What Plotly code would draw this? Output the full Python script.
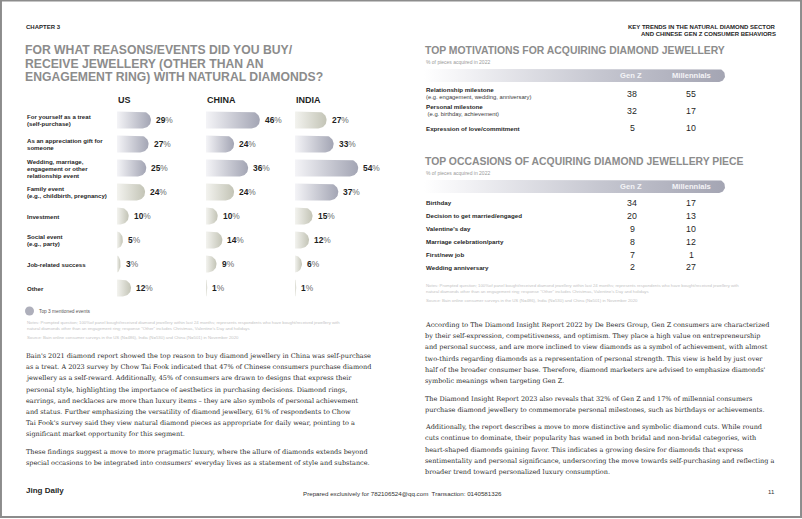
import numpy as np
import plotly.graph_objects as go

W, H = 802, 519
SANS = "Liberation Sans"
SERIF = "DejaVu Serif"
DARK = "#1f1f1f"

# ---- left chart data ----
reasons = [
    "For yourself as a treat<br>(self-purchase)",
    "As an appreciation gift for<br>someone",
    "Wedding, marriage,<br>engagement or other<br>relationship event",
    "Family event<br>(e.g., childbirth, pregnancy)",
    "Investment",
    "Social event<br>(e.g., party)",
    "Job-related success",
    "Other",
]
countries = ["US", "CHINA", "INDIA"]
us_pct = [29, 27, 25, 24, 10, 5, 3, 12]
china_pct = [46, 24, 36, 24, 10, 14, 9, 1]
india_pct = [27, 33, 54, 37, 15, 12, 6, 1]

# ---- right tables data ----
motivations = ["Relationship milestone", "Personal milestone", "Expression of love/commitment"]
motivation_notes = ["(e.g. engagement, wedding, anniversary)", " (e.g. birthday, achievement)", ""]
motiv_genz = [38, 32, 5]
motiv_mill = [55, 17, 10]

occasions = ["Birthday", "Decision to get married/engaged", "Valentine's day",
             "Marriage celebration/party", "First/new job", "Wedding anniversary"]
occ_genz = [34, 20, 9, 8, 7, 2]
occ_mill = [17, 13, 10, 12, 1, 27]

notes_lines = [
    "Notes: Prompted question; 100%of panel bought/received diamond jewellery within last 24 months; represents respondents who have bought/received jewellery with",
    "natural diamonds other than an engagement ring; response \"Other\" includes Christmas, Valentine's Day and holidays",
]
source_line = "Source: Bain online consumer surveys in the US (N=486), India (N=530) and China (N=501) in November 2020"

left_body = [
    ["Bain's 2021 diamond report showed the top reason to buy diamond jewellery in China was self-purchase",
     "as a treat. A 2023 survey by Chow Tai Fook indicated that 47% of Chinese consumers purchase diamond",
     "jewellery as a self-reward. Additionally, 45% of consumers are drawn to designs that express their",
     "personal style, highlighting the importance of aesthetics in purchasing decisions. Diamond rings,",
     "earrings, and necklaces are more than luxury items \u2013 they are also symbols of personal achievement",
     "and status. Further emphasizing the versatility of diamond jewellery, 61% of respondents to Chow",
     "Tai Fook's survey said they view natural diamond pieces as appropriate for daily wear, pointing to a",
     "significant market opportunity for this segment."],
    ["These findings suggest a move to more pragmatic luxury, where the allure of diamonds extends beyond",
     "special occasions to be integrated into consumers' everyday lives as a statement of style and substance."],
]
right_body = [
    ["According to The Diamond Insight Report 2022 by De Beers Group, Gen Z consumers are characterized",
     "by their self-expression, competitiveness, and optimism. They place a high value on entrepreneurship",
     "and personal success, and are more inclined to view diamonds as a symbol of achievement, with almost",
     "two-thirds regarding diamonds as a representation of personal strength. This view is held by just over",
     "half of the broader consumer base. Therefore, diamond marketers are advised to emphasize diamonds'",
     "symbolic meanings when targeting Gen Z."],
    ["The Diamond Insight Report 2023 also reveals that 32% of Gen Z and 17% of millennial consumers",
     "purchase diamond jewellery to commemorate personal milestones, such as birthdays or achievements."],
    ["Additionally, the report describes a move to more distinctive and symbolic diamond cuts. While round",
     "cuts continue to dominate, their popularity has waned in both bridal and non-bridal categories, with",
     "heart-shaped diamonds gaining favor. This indicates a growing desire for diamonds that express",
     "sentimentality and personal significance, underscoring the move towards self-purchasing and reflecting a",
     "broader trend toward personalized luxury consumption."],
]

# ---- geometry ----
PX = 1.17                 # pixels per percentage point
XMAX = 80
bar_left = [117, 206, 295]
ROW_TOP, ROW_BOT = 108, 300
ROW_PX = (ROW_BOT - ROW_TOP) / len(reasons)
HH = 0.35                 # half bar height in row units

fig = go.Figure()
annotations = []


def txt(x, y, text, size, color=DARK, bold=False, anchor="left", family=SANS, xref="x4", yref="y4", **kw):
    if bold:
        text = f"<b>{text}</b>"
    annotations.append(dict(x=x, y=y, xref=xref, yref=yref, text=text, showarrow=False,
                            xanchor=anchor, yanchor="middle", align=anchor,
                            font=dict(family=family, size=size, color=color), **kw))


def rounded_bar(v, row, hh, r):
    rx = min(v, r)
    t = np.linspace(-np.pi / 2, np.pi / 2, 25)
    xs = [0, v - rx] + list(v - rx + rx * np.cos(t)) + [0, 0]
    ys = [row - hh, row - hh] + list(row + hh * np.sin(t)) + [row + hh, row - hh]
    return xs, ys


cap_r = HH * ROW_PX / PX
for ci, vals in enumerate([us_pct, china_pct, india_pct]):
    xa = "x" if ci == 0 else f"x{ci + 1}"
    top3 = set(np.argsort(-np.array(vals), kind="stable")[:3])
    for ri, v in enumerate(vals):
        xs, ys = rounded_bar(v, ri, HH, cap_r)
        end = "#a3a5b4" if ri in top3 else "#c3c4b6"
        start = "#f4f4f7" if ri in top3 else "#f3f3ef"
        fig.add_trace(go.Scatter(
            x=xs, y=ys, xaxis=xa, yaxis="y", mode="lines", fill="toself",
            line=dict(width=0, color="rgba(0,0,0,0)"),
            fillgradient=dict(type="horizontal", colorscale=[[0, start], [1, end]]),
            hoverinfo="skip", showlegend=False))
        txt(v, ri, f"<b>{v}</b><span style='color:#6a6a6a'>%</span>", 8.4,
            xref=xa, yref="y", xshift=3)
    txt(bar_left[ci] - 1, 99.5, countries[ci], 9, bold=True)

# category labels, one annotation per line for tight leading
LEAD = 7.0 / ROW_PX
for ri, lab in enumerate(reasons):
    parts = lab.split("<br>")
    for k, part in enumerate(parts):
        txt(24.5, ri + (k - (len(parts) - 1) / 2) * LEAD, part, 6.1, bold=True, xref="x4", yref="y")

# legend dot
fig.add_trace(go.Scatter(x=[29.5], y=[311], xaxis="x4", yaxis="y4", mode="markers",
                         marker=dict(size=9, color="#aeafbb"), hoverinfo="skip", showlegend=False))
txt(37, 311, "Top 3 mentioned events", 4.8, color="#555555")

for i, ln in enumerate(notes_lines):
    txt(24.5, 322.5 + 5.8 * i, ln, 4.3, color="#c4c4c4")
    txt(423.5, 285 + 6.5 * i, ln, 4.3, color="#c4c4c4")
txt(24.5, 337.7, source_line, 4.3, color="#c4c4c4")
txt(423.5, 300.5, source_line, 4.3, color="#c4c4c4")

# ---- headers ----
txt(24, 27, "CHAPTER 3", 6, bold=True)
txt(777.5, 26.5, "KEY TRENDS IN THE NATURAL DIAMOND SECTOR", 6, bold=True, anchor="right")
txt(777.5, 34, "AND CHINESE GEN Z CONSUMER BEHAVIORS", 6, bold=True, anchor="right")
for i, ln in enumerate(["FOR WHAT REASONS/EVENTS DID YOU BUY/",
                        "RECEIVE JEWELLERY (OTHER THAN AN",
                        "ENGAGEMENT RING) WITH NATURAL DIAMONDS?"]):
    txt(23, 50 + 13.6 * i, ln, 12.2, color="#8c8c8c", bold=True)


# ---- right tables ----
def table(title_y, title, header_y, rows, subs, genz, mill, row_ys):
    txt(422.5, title_y, title, 10.4, color="#8c8c8c", bold=True)
    txt(423.5, title_y + 11.5, "% of pieces acquired in 2022", 5.0, color="#9a9a9a")
    hh = 6.6
    t = np.linspace(-np.pi / 2, np.pi / 2, 25)
    xs = [424, 725 - hh] + list(725 - hh + hh * np.cos(t)) + [424, 424]
    ys = [header_y - hh, header_y - hh] + list(header_y + hh * np.sin(t)) + [header_y + hh, header_y - hh]
    fig.add_trace(go.Scatter(
        x=xs, y=ys, xaxis="x4", yaxis="y4", mode="lines", fill="toself",
        line=dict(width=0, color="rgba(0,0,0,0)"),
        fillgradient=dict(type="horizontal",
                          colorscale=[[0, "#ffffff"], [0.15, "#f1f1f4"], [0.6, "#c4c5cf"], [1, "#a4a5b3"]]),
        hoverinfo="skip", showlegend=False))
    txt(631, header_y, "Gen Z", 7.6, color="#f4f4f7", bold=True, anchor="center")
    txt(691, header_y, "Millennials", 7.6, color="#f4f4f7", bold=True, anchor="center")
    for lab, sub, g, m, y in zip(rows, subs, genz, mill, row_ys):
        if sub:
            txt(423.5, y - 3.6, lab, 6.2, bold=True)
            txt(423.5, y + 3, sub, 5.8, color="#3a3a3a")
        else:
            txt(423.5, y, lab, 6.2, bold=True)
        txt(632, y, str(g), 8.8, anchor="center")
        txt(691, y, str(m), 8.8, anchor="center")


table(50, "TOP MOTIVATIONS FOR ACQUIRING DIAMOND JEWELLERY", 75.5,
      motivations, motivation_notes, motiv_genz, motiv_mill, [93.5, 110.5, 128])
table(161, "TOP OCCASIONS OF ACQUIRING DIAMOND JEWELLERY PIECE", 186.5,
      occasions, [""] * len(occasions), occ_genz, occ_mill, [202.5, 215.5, 228.5, 241.5, 254.5, 267])


# ---- body text ----
def body(x, y0, paras, step=11.2, gap=6.3):
    y = y0
    for para in paras:
        for ln in para:
            txt(x, y, ln, 6.5, color="#2a2a2a", family=SERIF)
            y += step
        y += gap


body(24, 356, left_body)
body(423, 325, right_body)

# ---- footer ----
txt(24, 490.5, "Jing Daily", 8, bold=True)
txt(402, 493, "Prepared exclusively for 782106524@qq.com  Transaction: 0140581326", 6.2, anchor="center", color="#333333")
txt(777, 491.5, "11", 6, anchor="right", color="#333333")

# ---- axes / layout ----
layout_axes = {}
for ci, x0 in enumerate(bar_left):
    key = "xaxis" if ci == 0 else f"xaxis{ci + 1}"
    layout_axes[key] = dict(range=[0, XMAX], domain=[x0 / W, (x0 + XMAX * PX) / W],
                            visible=False, fixedrange=True, anchor="y")
layout_axes["yaxis"] = dict(range=[len(reasons) - 0.5, -0.5],
                            domain=[1 - ROW_BOT / H, 1 - ROW_TOP / H], visible=False, fixedrange=True)
layout_axes["xaxis4"] = dict(range=[0, W], domain=[0, 1], visible=False, anchor="y4", fixedrange=True)
layout_axes["yaxis4"] = dict(range=[H, 0], domain=[0, 1], visible=False, anchor="x4", fixedrange=True)

fig.update_layout(
    width=W, height=H,
    margin=dict(l=0, r=0, t=0, b=0),
    paper_bgcolor="white", plot_bgcolor="rgba(0,0,0,0)",
    showlegend=False,
    hovermode=False,
    annotations=annotations,
    shapes=[dict(type="rect", xref="paper", yref="paper", x0=0.0012, y0=0.004, x1=0.9988, y1=0.999,
                 line=dict(color="#8c8c8c", width=2), layer="above")],
    **layout_axes,
)

# page body has a default 8px margin; drop it so the page fills the window
fig.write_html("out.html", config={"displayModeBar": False},
               post_script="document.body.style.margin='0';")
